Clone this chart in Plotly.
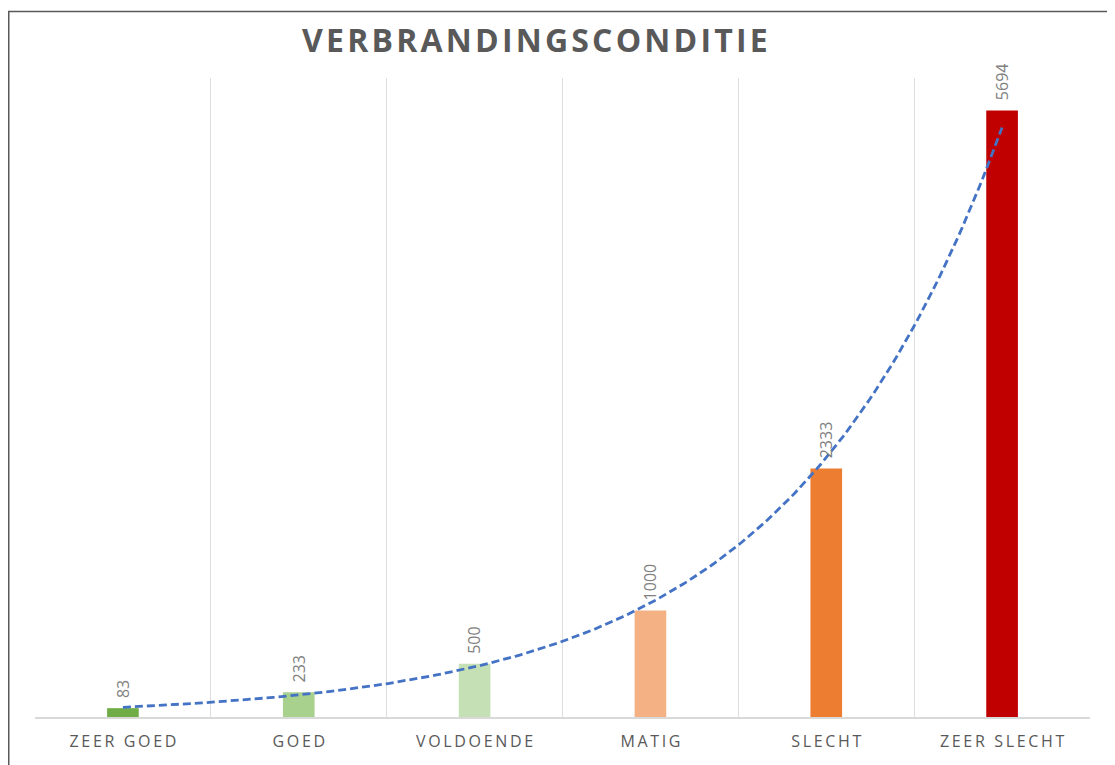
import numpy as np
import plotly.graph_objects as go

categories = ["ZEER GOED", "GOED", "VOLDOENDE", "MATIG", "SLECHT", "ZEER SLECHT"]
values = [83, 233, 500, 1000, 2333, 5694]
bar_colors = ["#70AD47", "#A9D18E", "#C5E0B4", "#F4B183", "#ED7D31", "#C00000"]
title_text = "VERBRANDINGSCONDITIE"

# page has an 8px body margin, so the figure is drawn 8px smaller
W, H = 1107, 757
L, R, T, B = 27, 25, 70, 48
pw, ph = W - L - R, H - T - B


def spaced(s, sep="\u200a"):
    return sep.join(s)


xs = list(range(len(categories)))

# exponential trendline, like Excel (least squares on ln(y))
b, ln_a = np.polyfit(np.arange(1, len(values) + 1), np.log(values), 1)
tx = np.linspace(0, len(values) - 1, 200)
ty = np.exp(ln_a + b * (tx + 1))

fig = go.Figure()
fig.add_trace(go.Bar(
    x=xs, y=values,
    marker=dict(color=bar_colors, line=dict(width=0)),
    width=0.18,
    hoverinfo="skip",
))
fig.add_trace(go.Scatter(
    x=tx, y=ty, mode="lines",
    line=dict(color="#4472C4", width=2.8, dash="8px,4px"),
    hoverinfo="skip",
))


def px_x(p):
    return (p - L) / pw


def px_y(p):
    return (H - B - p) / ph


annotations = [dict(
    text="<b>" + spaced(title_text) + "</b>",
    xref="paper", yref="paper",
    x=px_x(527), y=px_y(31), xanchor="center", yanchor="middle",
    showarrow=False,
    font=dict(family="Open Sans", size=32, color="#595959"),
)]
for x, v in zip(xs, values):
    annotations.append(dict(
        x=x, y=v, text=str(v), textangle=-90,
        xanchor="center", yanchor="bottom", yshift=8,
        showarrow=False,
        font=dict(family="Open Sans", size=16, color="#808080"),
    ))

fig.update_layout(
    width=W, height=H,
    margin=dict(l=L, r=R, t=T, b=B),
    paper_bgcolor="white", plot_bgcolor="white",
    showlegend=False,
    xaxis=dict(
        range=[-0.5, len(categories) - 0.5],
        tickvals=xs,
        ticktext=[spaced(c, "\u2009") for c in categories],
        tickfont=dict(family="Open Sans", size=16, color="#595959"),
        showgrid=False, zeroline=False,
        showline=True, linecolor="#D9D9D9", linewidth=1.5,
        ticks="", ticklabelstandoff=9,
        minor=dict(tickvals=[i - 0.5 for i in range(len(categories) + 1)],
                   showgrid=True, gridcolor="#DEDEDE", gridwidth=1, ticks=""),
        fixedrange=True,
    ),
    yaxis=dict(range=[0, 6000], visible=False, fixedrange=True),
    annotations=annotations,
    shapes=[dict(
        type="path", xref="paper", yref="paper",
        path="M {} {} L {} {} L {} {}".format(px_x(0.75), px_y(H), px_x(0.75), px_y(3.5), px_x(W), px_y(3.5)),
        line=dict(color="#595959", width=1.5),
        layer="above",
    )],
)

fig.write_html("out.html")
